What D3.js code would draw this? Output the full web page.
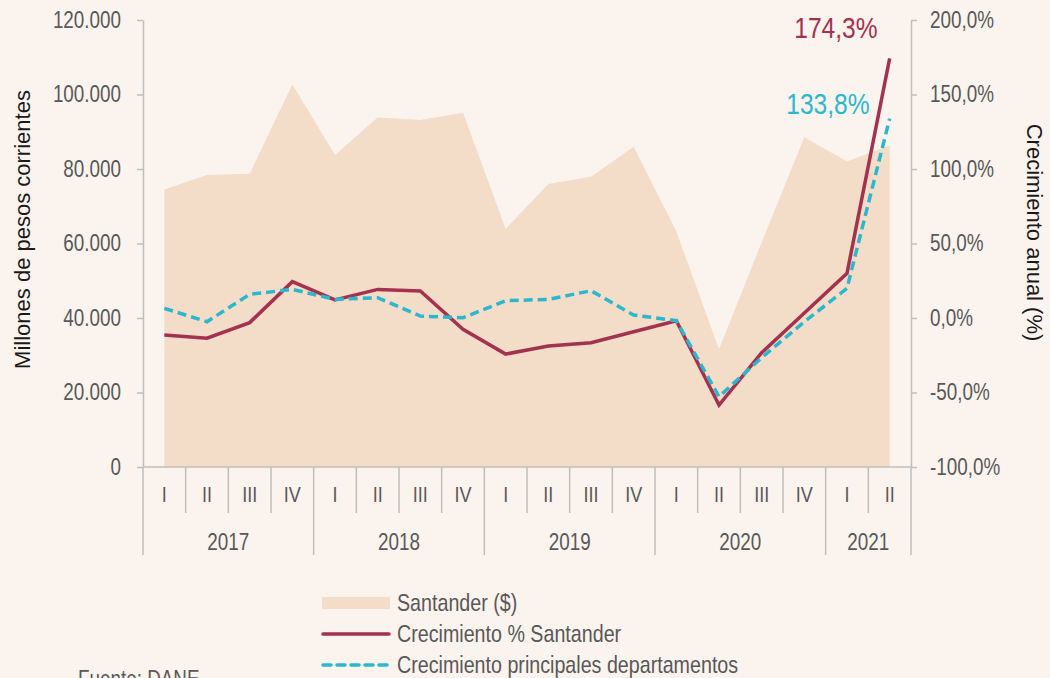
<!DOCTYPE html>
<html>
<head>
<meta charset="utf-8">
<script src="https://cdn.jsdelivr.net/npm/d3@7"></script>
<style>
  html, body { margin: 0; padding: 0; background: #fbf3ed; }
  svg { display: block; }
  text { font-family: "Liberation Sans", Arial, sans-serif; }
  .axis text { font-size: 23px; fill: #595959; }
  .axis path, .axis line { stroke: #bfbfbf; stroke-width: 1.5; }
</style>
</head>
<body>
<div id="chart"></div>
<script>
// quarters and years
var quarters = ["I", "II", "III", "IV", "I", "II", "III", "IV", "I", "II", "III", "IV",
                "I", "II", "III", "IV", "I", "II"];
var years = ["2017", "2018", "2019", "2020", "2021"];
var quartersPerYear = [4, 4, 4, 4, 2];

// Santander, millones de pesos corrientes
var santander = [74500, 78400, 78700, 102700, 83750, 93800, 93150, 95100,
                 63900, 76000, 77900, 86000, 63200, 31600, 60300, 88500, 82000, 86400];
// crecimiento anual (%)
var crecSantander = [-11.4, -13.6, -3.1, 24.4, 12.1, 19.2, 18.1, -7.6,
                     -24.2, -18.8, -16.6, -9.2, -1.8, -58.4, -23.3, 3.4, 30.0, 174.3];
var crecPrincipales = [6.5, -2.5, 15.9, 19.2, 12.5, 13.6, 1.3, 0.2,
                       11.6, 12.5, 18.3, 2.0, -1.8, -52.8, -26.6, -2.5, 19.9, 133.8];

var leftTicks = [0, 20000, 40000, 60000, 80000, 100000, 120000];
var rightTicks = [-100, -50, 0, 50, 100, 150, 200];

var width = 1050, height = 678;
var margin = {top: 20, right: 139, bottom: 211, left: 143};
var plotRight = width - margin.right,
    plotBottom = height - margin.bottom;

var colArea = "#f3dcc8", colRed = "#a3324f", colCyan = "#2db7cc";

var locale = d3.formatLocale({decimal: ",", thousands: ".", grouping: [3], currency: ["$", ""], minus: "-"});
var fmtLeft = locale.format(",.0f"),
    fmtRight = function (d) { return locale.format(".1f")(d) + "%"; };

// no narrow font installed: squeeze regular text horizontally
var squeeze = 0.82;
function condense(sel) {
    sel.each(function () {
        var t = d3.select(this);
        var x0 = +t.attr("x") || 0;
        t.attr("x", x0 / squeeze)
            .attr("transform", "scale(" + squeeze + ",1)");
    });
}

var svg = d3.select("#chart").append("svg")
    .attr("width", width)
    .attr("height", height);

// scales
var x = d3.scaleBand()
    .domain(d3.range(quarters.length))
    .range([margin.left, plotRight])
    .padding(0);
var cx = function (i) { return x(i) + x.bandwidth() / 2; };

var yLeft = d3.scaleLinear().domain([0, 120000]).range([plotBottom, margin.top]);
var yRight = d3.scaleLinear().domain([-100, 200]).range([plotBottom, margin.top]);

// area
var area = d3.area()
    .x(function (d, i) { return cx(i); })
    .y0(plotBottom)
    .y1(function (d) { return yLeft(d); });

svg.append("path")
    .datum(santander)
    .attr("d", area)
    .attr("fill", colArea);

// left axis
var leftAxis = svg.append("g")
    .attr("class", "axis")
    .attr("transform", "translate(" + margin.left + ",0)")
    .call(d3.axisLeft(yLeft).tickValues(leftTicks).tickFormat(fmtLeft)
        .tickSize(6).tickSizeOuter(0).tickPadding(16));
leftAxis.selectAll("text").call(condense);

// right axis
var rightAxis = svg.append("g")
    .attr("class", "axis")
    .attr("transform", "translate(" + plotRight + ",0)")
    .call(d3.axisRight(yRight).tickValues(rightTicks).tickFormat(fmtRight)
        .tickSize(6).tickSizeOuter(0).tickPadding(13));
rightAxis.selectAll("text").call(condense);

// bottom category axis (quarters)
var xAxis = svg.append("g")
    .attr("class", "axis")
    .attr("transform", "translate(0," + plotBottom + ")")
    .call(d3.axisBottom(x).tickFormat(function (i) { return quarters[i]; })
        .tickSize(0).tickPadding(19));
xAxis.select(".domain").remove();
xAxis.selectAll("text").style("font-size", "22px").call(condense);

svg.append("line")
    .attr("x1", margin.left).attr("x2", plotRight)
    .attr("y1", plotBottom).attr("y2", plotBottom)
    .attr("stroke", "#bfbfbf").attr("stroke-width", 1.5);

// dividers between quarters and years
var yearStarts = [0];
quartersPerYear.forEach(function (n, k) { yearStarts.push(yearStarts[k] + n); });

var boundaries = d3.range(quarters.length + 1);
svg.append("g").selectAll("line")
    .data(boundaries)
    .enter().append("line")
    .attr("x1", function (i) { return i < quarters.length ? x(i) : plotRight; })
    .attr("x2", function (i) { return i < quarters.length ? x(i) : plotRight; })
    .attr("y1", plotBottom)
    .attr("y2", function (i) { return yearStarts.indexOf(i) >= 0 ? plotBottom + 88 : plotBottom + 46; })
    .attr("stroke", "#bfbfbf")
    .attr("stroke-width", 1.5);

svg.append("g").selectAll("text")
    .data(years)
    .enter().append("text")
    .attr("x", function (d, k) {
        var a = x(yearStarts[k]);
        var b = yearStarts[k + 1] < quarters.length ? x(yearStarts[k + 1]) : plotRight;
        return (a + b) / 2;
    })
    .attr("y", plotBottom + 75)
    .attr("dy", "0.35em")
    .attr("text-anchor", "middle")
    .style("font-size", "23px")
    .attr("fill", "#595959")
    .text(function (d) { return d; })
    .call(condense);

// growth lines
var lineRight = d3.line()
    .x(function (d, i) { return cx(i); })
    .y(function (d) { return yRight(d); });

svg.append("path")
    .datum(crecSantander)
    .attr("d", lineRight)
    .attr("fill", "none")
    .attr("stroke", colRed)
    .attr("stroke-width", 3.5)
    .attr("stroke-linejoin", "miter");

svg.append("path")
    .datum(crecPrincipales)
    .attr("d", lineRight)
    .attr("fill", "none")
    .attr("stroke", colCyan)
    .attr("stroke-width", 3.5)
    .attr("stroke-dasharray", "9,5");

// end labels
var last = quarters.length - 1;
svg.append("text")
    .attr("x", cx(last) - 12)
    .attr("y", yRight(crecSantander[last]) - 20)
    .attr("text-anchor", "end")
    .style("font-size", "30px")
    .attr("fill", colRed)
    .text(fmtRight(crecSantander[last]))
    .call(condense);

svg.append("text")
    .attr("x", cx(last) - 20)
    .attr("y", yRight(crecPrincipales[last]) - 5)
    .attr("text-anchor", "end")
    .style("font-size", "30px")
    .attr("fill", colCyan)
    .text(fmtRight(crecPrincipales[last]))
    .call(condense);

// axis titles
svg.append("text")
    .attr("transform", "translate(22," + ((margin.top + plotBottom) / 2 - 14) + ") rotate(-90)")
    .attr("text-anchor", "middle")
    .attr("dy", "0.35em")
    .style("font-size", "22px")
    .attr("fill", "#1a1a1a")
    .text("Millones de pesos corrientes");

svg.append("text")
    .attr("transform", "translate(1035," + ((margin.top + plotBottom) / 2 - 11) + ") rotate(90)")
    .attr("text-anchor", "middle")
    .attr("dy", "0.35em")
    .style("font-size", "22px")
    .attr("fill", "#1a1a1a")
    .text("Crecimiento anual (%)");

// legend
var legend = svg.append("g").attr("transform", "translate(322,603)");
var legendItems = [
    {label: "Santander ($)", type: "area"},
    {label: "Crecimiento % Santander", type: "solid"},
    {label: "Crecimiento principales departamentos", type: "dash"}
];
var items = legend.selectAll("g")
    .data(legendItems)
    .enter().append("g")
    .attr("transform", function (d, i) { return "translate(0," + (i * 31) + ")"; });

items.each(function (d) {
    var g = d3.select(this);
    if (d.type === "area") {
        g.append("rect").attr("x", 0).attr("y", -6).attr("width", 68).attr("height", 12).attr("fill", colArea);
    } else {
        g.append("line").attr("x1", 1).attr("x2", 67).attr("y1", 0).attr("y2", 0)
            .attr("stroke", d.type === "solid" ? colRed : colCyan)
            .attr("stroke-width", 3.5)
            .attr("stroke-linecap", "round")
            .attr("stroke-dasharray", d.type === "dash" ? "8,6" : null);
    }
});

items.append("text")
    .attr("x", 75)
    .attr("dy", "0.35em")
    .style("font-size", "24px")
    .attr("fill", "#595959")
    .text(function (d) { return d.label; })
    .call(condense);

// source (cut by the bottom edge, as in the original)
svg.append("text")
    .attr("x", 78)
    .attr("y", 687)
    .style("font-size", "23px")
    .attr("fill", "#595959")
    .text("Fuente: DANE")
    .call(condense);
</script>
</body>
</html>
